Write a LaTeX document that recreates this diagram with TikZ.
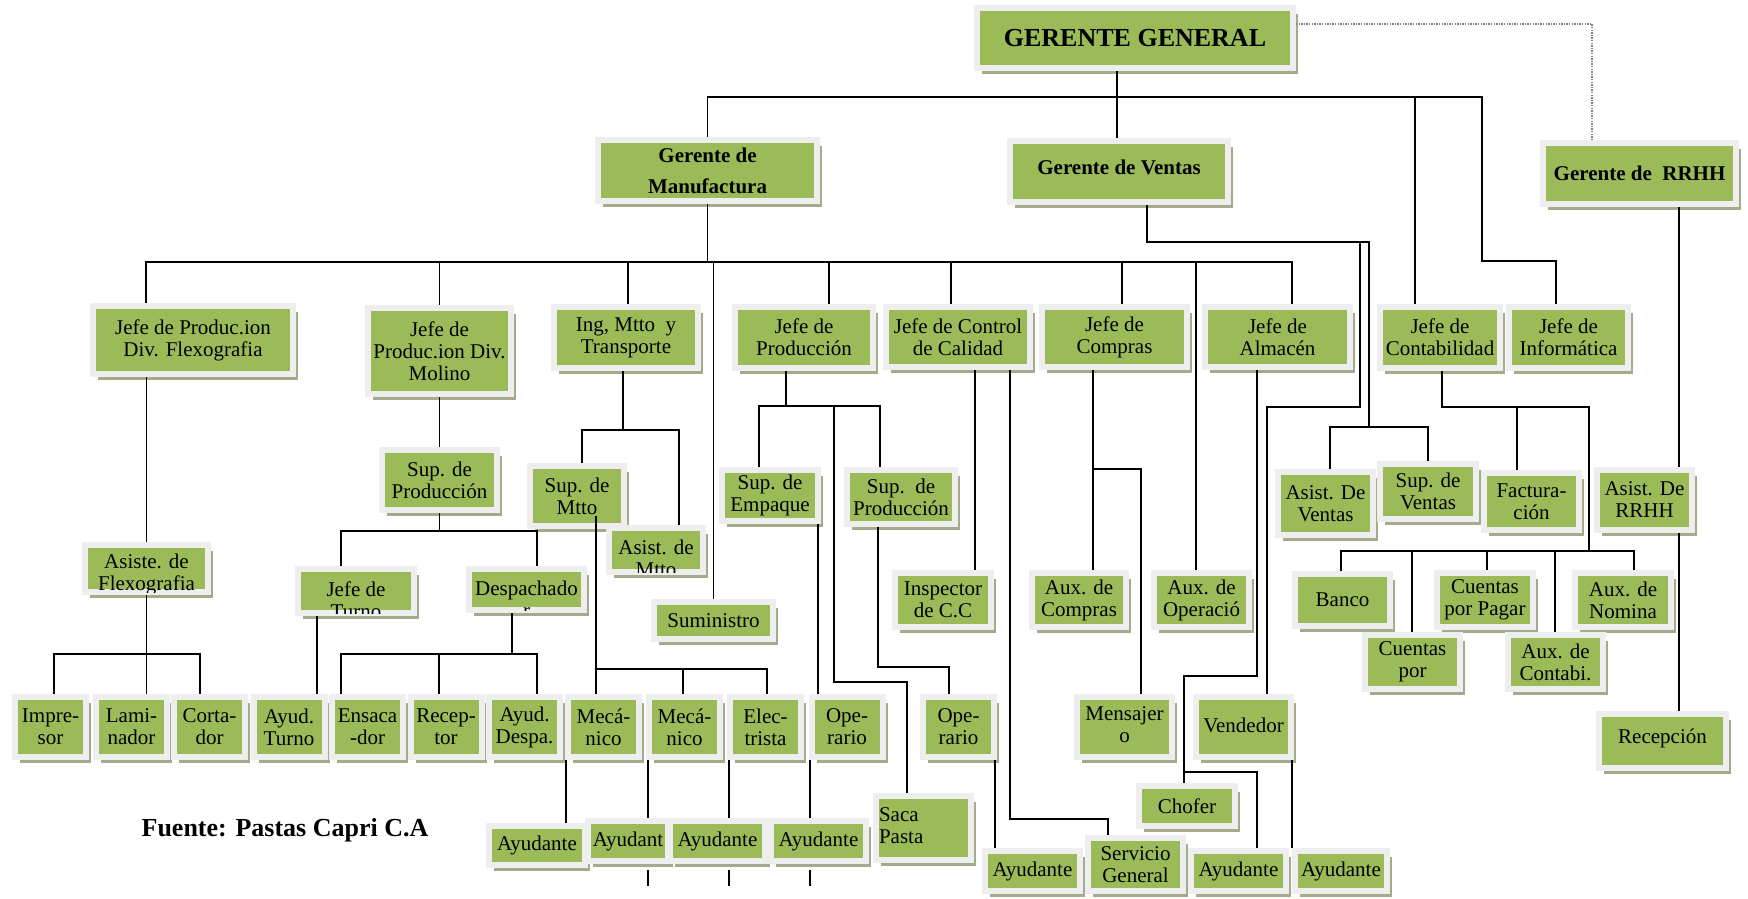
\documentclass[tikz,border=0pt]{standalone}
\usepackage{fontspec}
\setmainfont{Liberation Serif}
\usetikzlibrary{shadows}
\definecolor{boxgreen}{HTML}{9BBB59}
\definecolor{framegray}{HTML}{EEEEEE}
\definecolor{shadowcol}{HTML}{A3AC8A}
\newcommand\lblfont{\fontsize{21}{22}\selectfont}
\newcommand\headfont{\fontsize{21}{31}\selectfont\bfseries}
\newcommand\ggfont{\fontsize{26}{30}\selectfont\bfseries}
\newcommand\srcfont{\fontsize{26}{28}\selectfont\bfseries}
\tikzset{
 box/.style={rectangle, fill=boxgreen, draw=framegray, line width=6pt, inner sep=0pt, align=center, font=\lblfont, text=black,
   drop shadow={shadow xshift=5pt, shadow yshift=-6pt, fill=shadowcol, opacity=1}},
 bx/.style 2 args={box, minimum width=#1+6, minimum height=#2+6},
 link/.style={draw=black, line width=1.8pt},
 dotline/.style={draw=gray, line width=1.3pt, dash pattern=on 1.3pt off 1.3pt},
 cliptext/.style={inner sep=0pt, align=center, font=\lblfont, text=black},
}
\begin{document}
\begin{tikzpicture}[x=1pt,y=-1pt]
\useasboundingbox (0,0) rectangle (1748,898);
% level 0 and 1
\node[bx={310}{54}, font=\ggfont] (gg) at (1135,38) {GERENTE GENERAL};
\node[bx={213}{55}, font=\headfont] (manuf) at (707.5,170.5) {Gerente de\\Manufactura};
\node[bx={212}{55}, font=\headfont] (ventas) at (1119,171.5) {\raisebox{8pt}{Gerente de Ventas}};
\node[bx={187}{55}, font=\headfont] (rrhh) at (1639.5,173.5) {Gerente de\ \ RRHH};
% level 2
\node[bx={194}{62}] (flexo) at (193,340) {Jefe de Produc.ion\\Div. Flexografia};
\node[bx={137}{80}] (molino) at (439.5,351) {Jefe de\\Produc.ion Div.\\Molino};
\node[bx={138}{55}] (ingmtto) at (626,337.5) {Ing, Mtto\ \ y\\Transporte};
\node[bx={132}{55}] (jprod) at (804,337.5) {Jefe de\\Producción};
\node[bx={138}{54}] (jcc) at (958,337) {Jefe de Control\\de Calidad};
\node[bx={139}{54}] (jcomp) at (1114.5,337) {Jefe de\\Compras};
\node[bx={139}{54}] (jalm) at (1277.5,337) {Jefe de\\Almacén};
\node[bx={114}{55}] (jcont) at (1440,337.5) {Jefe de\\Contabilidad};
\node[bx={113}{55}] (jinf) at (1568.5,337.5) {Jefe de\\Informática};
% level 3
\node[bx={109}{54}] (supprod1) at (439.5,480) {Sup. de\\Producción};
\node[bx={88}{54}] (supmtto) at (577,496) {Sup. de\\Mtto};
\node[bx={88}{38}] (asistmtto) at (656,550) {};
\node[bx={90}{45}] (supemp) at (770,495.5) {Sup. de\\Empaque};
\node[bx={102}{48}] (supprod2) at (901,497) {Sup.\ \ de\\Producción};
\node[bx={89}{57}] (asistvent) at (1325.5,503.5) {Asist. De\\Ventas};
\node[bx={90}{49}] (supvent) at (1428,491.5) {Sup. de\\Ventas};
\node[bx={89}{51}] (factur) at (1531.5,501.5) {Factura-\\ción};
\node[bx={89}{54}] (asistrrhh) at (1644.5,500) {Asist. De\\RRHH};
% level 4
\node[bx={117}{41}] (asisteflexo) at (146.5,568.5) {};
\node[bx={110}{38}] (jturno) at (356,591) {};
\node[bx={109}{35}] (despach) at (526.5,589.5) {};
\node[bx={113}{31}] (sumin) at (713.5,620.5) {Suministro};
\node[bx={90}{48}] (inspector) at (943,600) {Inspector\\de C.C};
\node[bx={88}{48}] (auxcomp) at (1079,600) {Aux. de\\Compras};
\node[bx={89}{48}] (auxop) at (1201.5,600) {Aux. de\\Operació};
\node[bx={89}{46}] (banco) at (1342.5,600) {Banco};
\node[bx={90}{48}] (cpp) at (1485,600) {Cuentas\\por Pagar};
\node[bx={90}{48}] (auxnom) at (1623,600) {Aux. de\\Nomina};
\node[bx={89}{48}] (cpor) at (1412.5,662) {Cuentas\\por};
\node[bx={89}{48}] (auxcont) at (1555.5,662) {Aux. de\\Contabi.};
% bottom row
\node[bx={65}{54}] (impresor) at (50.5,727) {Impre-\\sor};
\node[bx={65}{54}] (laminador) at (131.5,727) {Lami-\\nador};
\node[bx={65}{54}] (cortador) at (209.5,727) {Corta-\\dor};
\node[bx={65}{54}] (ayudturno) at (289,727) {Ayud.\\Turno};
\node[bx={65}{54}] (ensacador) at (367.5,727) {Ensaca\\-dor};
\node[bx={65}{54}] (receptor) at (446,727) {Recep-\\tor};
\node[bx={65}{54}] (ayuddespa) at (524.5,727) {Ayud.\\Despa.};
\node[bx={65}{54}] (mec1) at (603.5,727) {Mecá-\\nico};
\node[bx={65}{54}] (mec2) at (684.5,727) {Mecá-\\nico};
\node[bx={65}{54}] (electr) at (765.5,727) {Elec-\\trista};
\node[bx={65}{54}] (oper1) at (847,727) {Ope-\\rario};
\node[bx={65}{54}] (oper2) at (958.5,727) {Ope-\\rario};
\node[bx={89}{54}] (mensajero) at (1124.5,727) {\raisebox{-7pt}{\begin{tabular}{@{}c@{}}Mensajer\\o\end{tabular}}};
\node[bx={89}{54}] (vendedor) at (1243.5,727) {\raisebox{3pt}{Vendedor}};
\node[bx={121}{48}] (recepcion) at (1662.5,741) {\raisebox{9pt}{Recepción}};
\node[bx={90}{34}] (chofer) at (1187,806) {Chofer};
% ayudantes
\node[bx={90}{33}] (ayud1) at (537,845.5) {Ayudante};
\node[bx={74}{34}] (ayud2) at (628,841) {Ayudant};
\node[bx={89}{34}] (ayud3) at (717.5,841) {Ayudante};
\node[bx={89}{34}] (ayud4) at (818.5,841) {Ayudante};
\node[bx={89}{58}, text width=89pt, align=left] (sacapasta) at (923.5,828) {\raisebox{4pt}{\begin{tabular}{@{}l@{}}Saca\\Pasta\end{tabular}}};
\node[bx={89}{34}] (ayud5) at (1032.5,871) {Ayudante};
\node[bx={89}{47}] (servicio) at (1135.5,864.5) {Servicio\\General};
\node[bx={89}{34}] (ayud6) at (1238.5,871) {Ayudante};
\node[bx={86}{34}] (ayud7) at (1341,871) {Ayudante};
% clipped texts
\begin{scope}
\clip ([shift={(3pt,-3pt)}]asisteflexo.north west) rectangle ([shift={(-3pt,3pt)}]asisteflexo.south east);
\node[cliptext] (asisteflexo-t) at ([yshift=-6pt]asisteflexo.center) {Asiste. de\\Flexografia};
\end{scope}
\begin{scope}
\clip ([shift={(3pt,-3pt)}]jturno.north west) rectangle ([shift={(-3pt,3pt)}]jturno.south east);
\node[cliptext] (jturno-t) at ([yshift=-9pt]jturno.center) {Jefe de\\Turno};
\end{scope}
\begin{scope}
\clip ([shift={(3pt,-3pt)}]despach.north west) rectangle ([shift={(-3pt,3pt)}]despach.south east);
\node[cliptext] (despach-t) at ([yshift=-10pt]despach.center) {Despachado\\r};
\end{scope}
\begin{scope}
\clip ([shift={(3pt,-3pt)}]asistmtto.north west) rectangle ([shift={(-3pt,3pt)}]asistmtto.south east);
\node[cliptext] (asistmtto-t) at ([yshift=-8.5pt]asistmtto.center) {Asist. de\\Mtto};
\end{scope}
% source
\node[font=\srcfont, inner sep=0pt] (fuente) at (285,830) {Fuente: Pastas Capri C.A};
% ---------- connectors ----------
\draw[link] ([xshift=-18pt]gg.south) -- ([xshift=-2pt]ventas.north);
\draw[link] (manuf.north) |- (1482,97) |- (1556,261) -- ([xshift=-12.5pt]jinf.north);
\draw[link] (1415,97) -- ([xshift=-25pt]jcont.north);
\draw[dotline] ([yshift=14pt]gg.east) -| ([xshift=-47.5pt]rrhh.north);
% manufactura
\draw[link] (manuf.south) -- (707.5,262);
\draw[link] ([xshift=-47pt]flexo.north) |- (1292,262) -- ([xshift=14.5pt]jalm.north);
\draw[link] (439.5,262) -- (molino.north);
\draw[link] (628,262) -- ([xshift=2pt]ingmtto.north);
\draw[link] (829,262) -- ([xshift=25pt]jprod.north);
\draw[link] (951,262) -- ([xshift=-7pt]jcc.north);
\draw[link] (1122,262) -- ([xshift=7.5pt]jcomp.north);
\draw[link] (713.5,262) -- (sumin.north);
\draw[link] (1196,262) -- ([xshift=-5.5pt]auxop.north);
% flexografia
\draw[link] ([xshift=-46.5pt]flexo.south) -- (asisteflexo.north);
\draw[link] (asisteflexo.south) -- ([xshift=15pt]laminador.north);
\draw[link] ([xshift=3.5pt]impresor.north) -- (54,654) -- (200,654) -- ([xshift=-9.5pt]cortador.north);
% molino
\draw[link] (molino.south) -- (supprod1.north);
\draw[link] (supprod1.south) -- (439.5,531);
\draw[link] ([xshift=-15pt]jturno.north) -- (341,531) -- (537,531) -- ([xshift=10.5pt]despach.north);
\draw[link] ([xshift=-39pt]jturno.south) -- ([xshift=28pt]ayudturno.north);
\draw[link] ([xshift=-14.5pt]despach.south) -- (512,654);
\draw[link] ([xshift=-26.5pt]ensacador.north) -- (341,654) -- (537,654) -- ([xshift=12.5pt]ayuddespa.north);
\draw[link] (439,654) -- ([xshift=-7pt]receptor.north);
% ing mtto
\draw[link] ([xshift=-3pt]ingmtto.south) -- (623,430);
\draw[link] ([xshift=5pt]supmtto.north) -- (582,430) -- (679,430) -- ([xshift=23pt]asistmtto.north);
\draw[link] ([xshift=19pt,yshift=13pt]supmtto.south) -- ([xshift=-7.5pt]mec1.north);
\draw[link] (596,669) -- (767,669) -- ([xshift=1.5pt]electr.north);
\draw[link] (683,669) -- ([xshift=-1.5pt]mec2.north);
% jefe de produccion
\draw[link] ([xshift=-18pt]jprod.south) -- (786,406);
\draw[link] ([xshift=-11pt]supemp.north) -- (759,406) -- (880,406) -- ([xshift=-21pt]supprod2.north);
\draw[link] (834,406) -- (834,682) -- (907,682) -- ([xshift=-16.5pt]sacapasta.north);
\draw[link] ([xshift=48pt]supemp.south) -- ([xshift=-29pt]oper1.north);
\draw[link] ([xshift=-23pt]supprod2.south) -- (878,667) -- (949,667) -- ([xshift=-9.5pt]oper2.north);
% control de calidad
\draw[link] ([xshift=17pt]jcc.south) -- ([xshift=32pt]inspector.north);
\draw[link] ([xshift=52pt]jcc.south) -- (1010,819) -- (1108,819) -- ([xshift=-27.5pt]servicio.north);
% compras
\draw[link] ([xshift=-21.5pt]jcomp.south) -- ([xshift=14pt]auxcomp.north);
\draw[link] (1093,469) -- (1141,469) -- ([xshift=16.5pt]mensajero.north);
% almacen
\draw[link] ([xshift=-20.5pt]jalm.south) -- (1257,676) -- (1184,676) -- ([xshift=-3pt]chofer.north);
\draw[link] (1184,772) -- (1257,772) -- ([xshift=18.5pt]ayud6.north);
% ventas
\draw[link] ([xshift=28pt]ventas.south) -- (1147,242) -- (1369,242) -- (1369,427);
\draw[link] ([xshift=4.5pt]asistvent.north) -- (1330,427) -- (1428,427) -- (supvent.north);
\draw[link] (1360,242) -- (1360,407) -- (1267,407) -- ([xshift=23.5pt]vendedor.north);
% contabilidad
\draw[link] ([xshift=2pt]jcont.south) -- (1442,407) -- (1589,407) -- (1589,551);
\draw[link] (1517,407) -- ([xshift=-14.5pt]factur.north);
\draw[link] ([xshift=-1.5pt]banco.north) -- (1341,551) -- (1634,551) -- ([xshift=11pt]auxnom.north);
\draw[link] (1412,551) -- ([xshift=-0.5pt]cpor.north);
\draw[link] (1487,551) -- ([xshift=2pt]cpp.north);
\draw[link] (1555,551) -- ([xshift=-0.5pt]auxcont.north);
% rrhh
\draw[link] ([xshift=39.5pt]rrhh.south) -- ([xshift=34.5pt]asistrrhh.north);
\draw[link] ([xshift=34.5pt]asistrrhh.south) -- ([xshift=16.5pt]recepcion.north);
% ayudantes
\draw[link] ([xshift=-37.5pt]mec1.south) -- ([xshift=29pt]ayud1.north);
\draw[link] ([xshift=-36.5pt]mec2.south) -- ([xshift=20pt]ayud2.north);
\draw[link] ([xshift=-36.5pt]electr.south) -- ([xshift=11.5pt]ayud3.north);
\draw[link] ([xshift=-37pt]oper1.south) -- ([xshift=-8.5pt]ayud4.north);
\draw[link] ([xshift=36.5pt]oper2.south) -- ([xshift=-37.5pt]ayud5.north);
\draw[link] ([xshift=48.5pt]vendedor.south) -- ([xshift=-49pt]ayud7.north);
% stubs below
\draw[link] ([xshift=20pt,yshift=-6pt]ayud2.south) -- ++(0pt,-16pt);
\draw[link] ([xshift=11.5pt,yshift=-6pt]ayud3.south) -- ++(0pt,-16pt);
\draw[link] ([xshift=-8.5pt,yshift=-6pt]ayud4.south) -- ++(0pt,-16pt);
\end{tikzpicture}
\end{document}
